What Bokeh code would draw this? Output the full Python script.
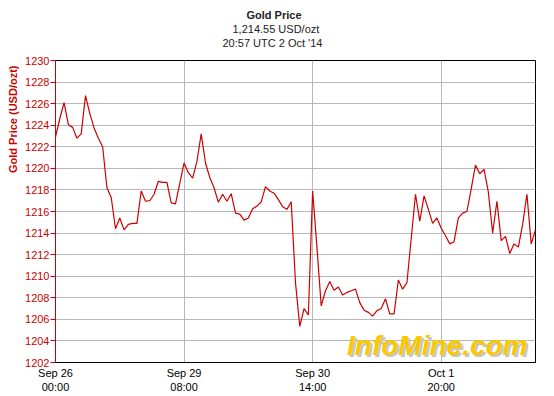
from bokeh.plotting import figure
from bokeh.models import Label, FixedTicker, Range1d, Title
from bokeh.embed import file_html
from bokeh.resources import INLINE

# Hourly gold price readings (USD/ozt), trading hours from Sep 26 00:00 UTC
prices = [
    1222.9, 1224.6, 1226.1, 1224.05, 1223.8, 1222.8, 1223.2, 1226.75, 1225.1, 1223.75,
    1222.8, 1222.0, 1218.2, 1217.3, 1214.4, 1215.4, 1214.3, 1214.8, 1214.9, 1214.9,
    1217.9, 1216.95, 1217.0, 1217.6, 1218.8, 1218.7, 1218.7, 1216.8, 1216.7, 1218.6,
    1220.5, 1219.6, 1219.1, 1220.65, 1223.2, 1220.5, 1219.15, 1218.2, 1216.85, 1217.6,
    1216.95, 1217.65, 1215.85, 1215.75, 1215.2, 1215.4, 1216.25, 1216.5, 1216.9, 1218.3,
    1217.9, 1217.7, 1217.1, 1216.45, 1216.2, 1216.9, 1209.4, 1205.35, 1207.0, 1206.4,
    1217.9, 1212.7, 1207.25, 1208.65, 1209.5, 1208.7, 1209.0, 1208.25, 1208.5, 1208.65,
    1208.8, 1207.55, 1206.85, 1206.65, 1206.3, 1206.8, 1207.0, 1207.9, 1206.5, 1206.5,
    1209.65, 1208.8, 1209.4, 1213.5, 1217.6, 1215.1, 1217.45, 1216.2, 1214.9, 1215.4,
    1214.45, 1213.75, 1213.0, 1213.2, 1215.4, 1215.85, 1216.0, 1218.1, 1220.3, 1219.5,
    1219.9, 1217.8, 1214.0, 1216.95, 1213.3, 1213.7, 1212.1, 1213.0, 1212.7, 1214.8,
    1217.6, 1213.0, 1214.3,
]
hours = list(range(len(prices)))

x_ticks = [0, 30, 60, 90]
x_tick_labels = ["Sep 26\n00:00", "Sep 29\n08:00", "Sep 30\n14:00", "Oct 1\n20:00"]
y_ticks = list(range(1202, 1231, 2))

title_lines = ["Gold Price", "1,214.55 USD/ozt", "20:57 UTC  2 Oct '14"]
y_title = "Gold Price (USD/ozt)"
watermark = "InfoMine.com"

FONT = "Liberation Sans"
RED = "#cc0000"

p = figure(width=554, height=396, output_backend="svg", toolbar_location=None,
           x_range=Range1d(0, 112), y_range=Range1d(1202, 1230),
           min_border_left=55, min_border_right=19, min_border_top=60,
           min_border_bottom=34)
p.title.text = ""
p.title.standoff = 0
p.background_fill_color = "white"
p.border_fill_color = "white"
p.outline_line_color = "black"
p.outline_line_width = 1

p.line(hours, prices, line_color=RED, line_width=1.2)

# x axis
xa = p.xaxis[0]
xa.ticker = FixedTicker(ticks=x_ticks)
xa.major_label_overrides = {t: l for t, l in zip(x_ticks, x_tick_labels)}
xa.major_tick_out = 0
xa.major_tick_in = 0
xa.minor_tick_out = 0
xa.minor_tick_in = 0
xa.major_label_standoff = 4
xa.axis_line_color = "black"
xa.major_label_text_font = FONT
xa.major_label_text_font_size = "11px"
xa.major_label_text_color = "black"

# y axis
ya = p.yaxis[0]
ya.ticker = FixedTicker(ticks=y_ticks)
ya.major_tick_out = 5
ya.major_tick_in = 0
ya.minor_tick_out = 0
ya.minor_tick_in = 0
ya.major_tick_line_color = RED
ya.axis_line_color = RED
ya.major_label_standoff = 1
ya.major_label_text_font = FONT
ya.major_label_text_font_size = "11px"
ya.major_label_text_color = RED

p.xgrid.grid_line_color = "#b8b8b8"
p.ygrid.grid_line_color = "#b8b8b8"

# spacer between the frame and the title block
p.add_layout(Title(text=" ", text_font_size="1px", standoff=9), "above")

# three centred title lines (added bottom-most first)
offsets = [191, 177, 167]
for i in (2, 1, 0):
    p.add_layout(Title(text=title_lines[i], align="left", offset=offsets[i],
                       text_font=FONT, text_font_size="11px",
                       text_font_style="bold" if i == 0 else "normal",
                       text_color="#222222", standoff=0), "above")

# y axis title near the top of the axis
p.add_layout(Title(text=y_title, align="right", offset=5,
                   text_font=FONT, text_font_size="11px", text_font_style="bold",
                   text_color=RED, standoff=7), "left")

# watermark with shadow
wx, wy = 472, 17
p.add_layout(Label(x=wx + 2, y=wy - 2, x_units="screen", y_units="screen",
                   text=watermark, text_align="right", text_baseline="alphabetic",
                   text_font=FONT, text_font_size="28px", text_font_style="bold italic",
                   text_color="#c4c4c4"))
p.add_layout(Label(x=wx, y=wy, x_units="screen", y_units="screen",
                   text=watermark, text_align="right", text_baseline="alphabetic",
                   text_font=FONT, text_font_size="28px", text_font_style="bold italic",
                   text_color="#f9c800"))

open("out.html", "w").write(file_html(p, INLINE))
